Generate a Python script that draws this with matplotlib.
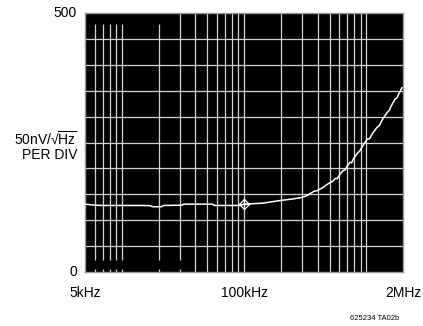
import matplotlib
matplotlib.use("Agg")
import matplotlib.pyplot as plt

# noise density (Hz, nV/rtHz)
freq = [5000, 6000, 7000, 10000, 15000, 17000, 18000, 21000, 22000, 31000,
        32000, 55000, 57000, 92000, 100000, 143000, 197000, 250000, 298000,
        330000, 350000, 375000, 396000, 440000, 478000, 500000, 530000,
        560000, 577000, 610000, 646000, 670000, 700000, 738000, 760000,
        790000, 857000, 880000, 930000, 1020000, 1060000, 1120000, 1220000,
        1280000, 1350000, 1480000, 1540000, 1600000, 1720000, 1780000,
        1850000, 1960000]
noise = [131, 129, 128.5, 128.5, 128.5, 128, 126, 126, 128.5, 129,
         131, 131, 128.5, 128.5, 131, 133, 138, 141, 144,
         148, 152, 156, 157, 163, 169, 172, 175,
         181, 180, 189, 196, 197, 205, 212, 211,
         220, 231, 233, 243, 257, 257, 267, 279,
         283, 294, 308, 312, 321, 334, 336, 345, 356]

marker_f = 100000
marker_v = 131

x_labels = ["5kHz", "100kHz", "2MHz"]
x_label_pos = [5000, 100000, 2000000]

grid_freqs = [6e3, 7e3, 8e3, 9e3, 1e4, 2e4, 3e4, 4e4, 5e4, 6e4, 7e4, 8e4, 9e4,
              1e5, 2e5, 3e5, 4e5, 5e5, 6e5, 7e5, 8e5, 9e5, 1e6]

plt.rcParams['font.family'] = ['Liberation Sans', 'DejaVu Sans']
plt.rcParams['mathtext.fontset'] = 'custom'
plt.rcParams['mathtext.rm'] = 'Liberation Sans'
plt.rcParams['mathtext.it'] = 'Liberation Sans'

fig = plt.figure(figsize=(4.23, 3.26), dpi=100)
ax = fig.add_axes([0.201, 0.1656, 0.752, 0.7944])
ax.set_facecolor("black")
ax.set_xscale("log")
ax.set_xlim(5000, 2000000)
ax.set_ylim(0, 500)

gc = "#d4d4d4"
# horizontal grid every division
for v in range(50, 500, 50):
    ax.axhline(v, color=gc, lw=0.9, zorder=1)

# vertical grid; the low ones are cut short on the scope screen
for f in grid_freqs:
    if f < 25000:
        ax.vlines(f, 23, 479, color=gc, lw=0.9, zorder=1)
        ax.vlines(f, 0, 6, color=gc, lw=0.9, zorder=1)
    elif f < 35000:
        ax.vlines(f, 23, 500, color=gc, lw=0.9, zorder=1)
        ax.vlines(f, 0, 6, color=gc, lw=0.9, zorder=1)
    else:
        ax.vlines(f, 0, 500, color=gc, lw=0.9, zorder=1)

ax.plot(freq, noise, color="white", lw=1.1, zorder=3)
ax.plot([marker_f], [marker_v], marker="D", ms=5, mfc="none", mec="white", mew=0.9, zorder=4)
ax.plot([marker_f], [marker_v], marker="+", ms=9, color="white", mew=0.9, zorder=4)

ax.set_xticks([])
ax.set_yticks([])
ax.minorticks_off()
for s in ax.spines.values():
    s.set_color("#9a9a9a")
    s.set_linewidth(1)

# y axis text
ax.text(-0.025, 1.0, "500", transform=ax.transAxes, ha="right", va="center", fontsize=10)
ax.text(-0.025, 0.0, "0", transform=ax.transAxes, ha="right", va="center", fontsize=10)
ax.text(-0.025, 0.514, "50nV/\u221a$\\overline{\\mathrm{Hz}}$", transform=ax.transAxes,
        ha="right", va="center", fontsize=10)
ax.text(-0.025, 0.452, "PER DIV", transform=ax.transAxes, ha="right", va="center", fontsize=10)

# x axis text
for lab, f in zip(x_labels, x_label_pos):
    ax.text(f, -0.08, lab, transform=ax.get_xaxis_transform(), ha="center",
            va="center", fontsize=10)

fig.text(375 / 423, 1 - 318 / 326, "625234 TA02b", ha="center", va="center", fontsize=5.5)

fig.savefig("out.png", dpi=100, facecolor="white")
